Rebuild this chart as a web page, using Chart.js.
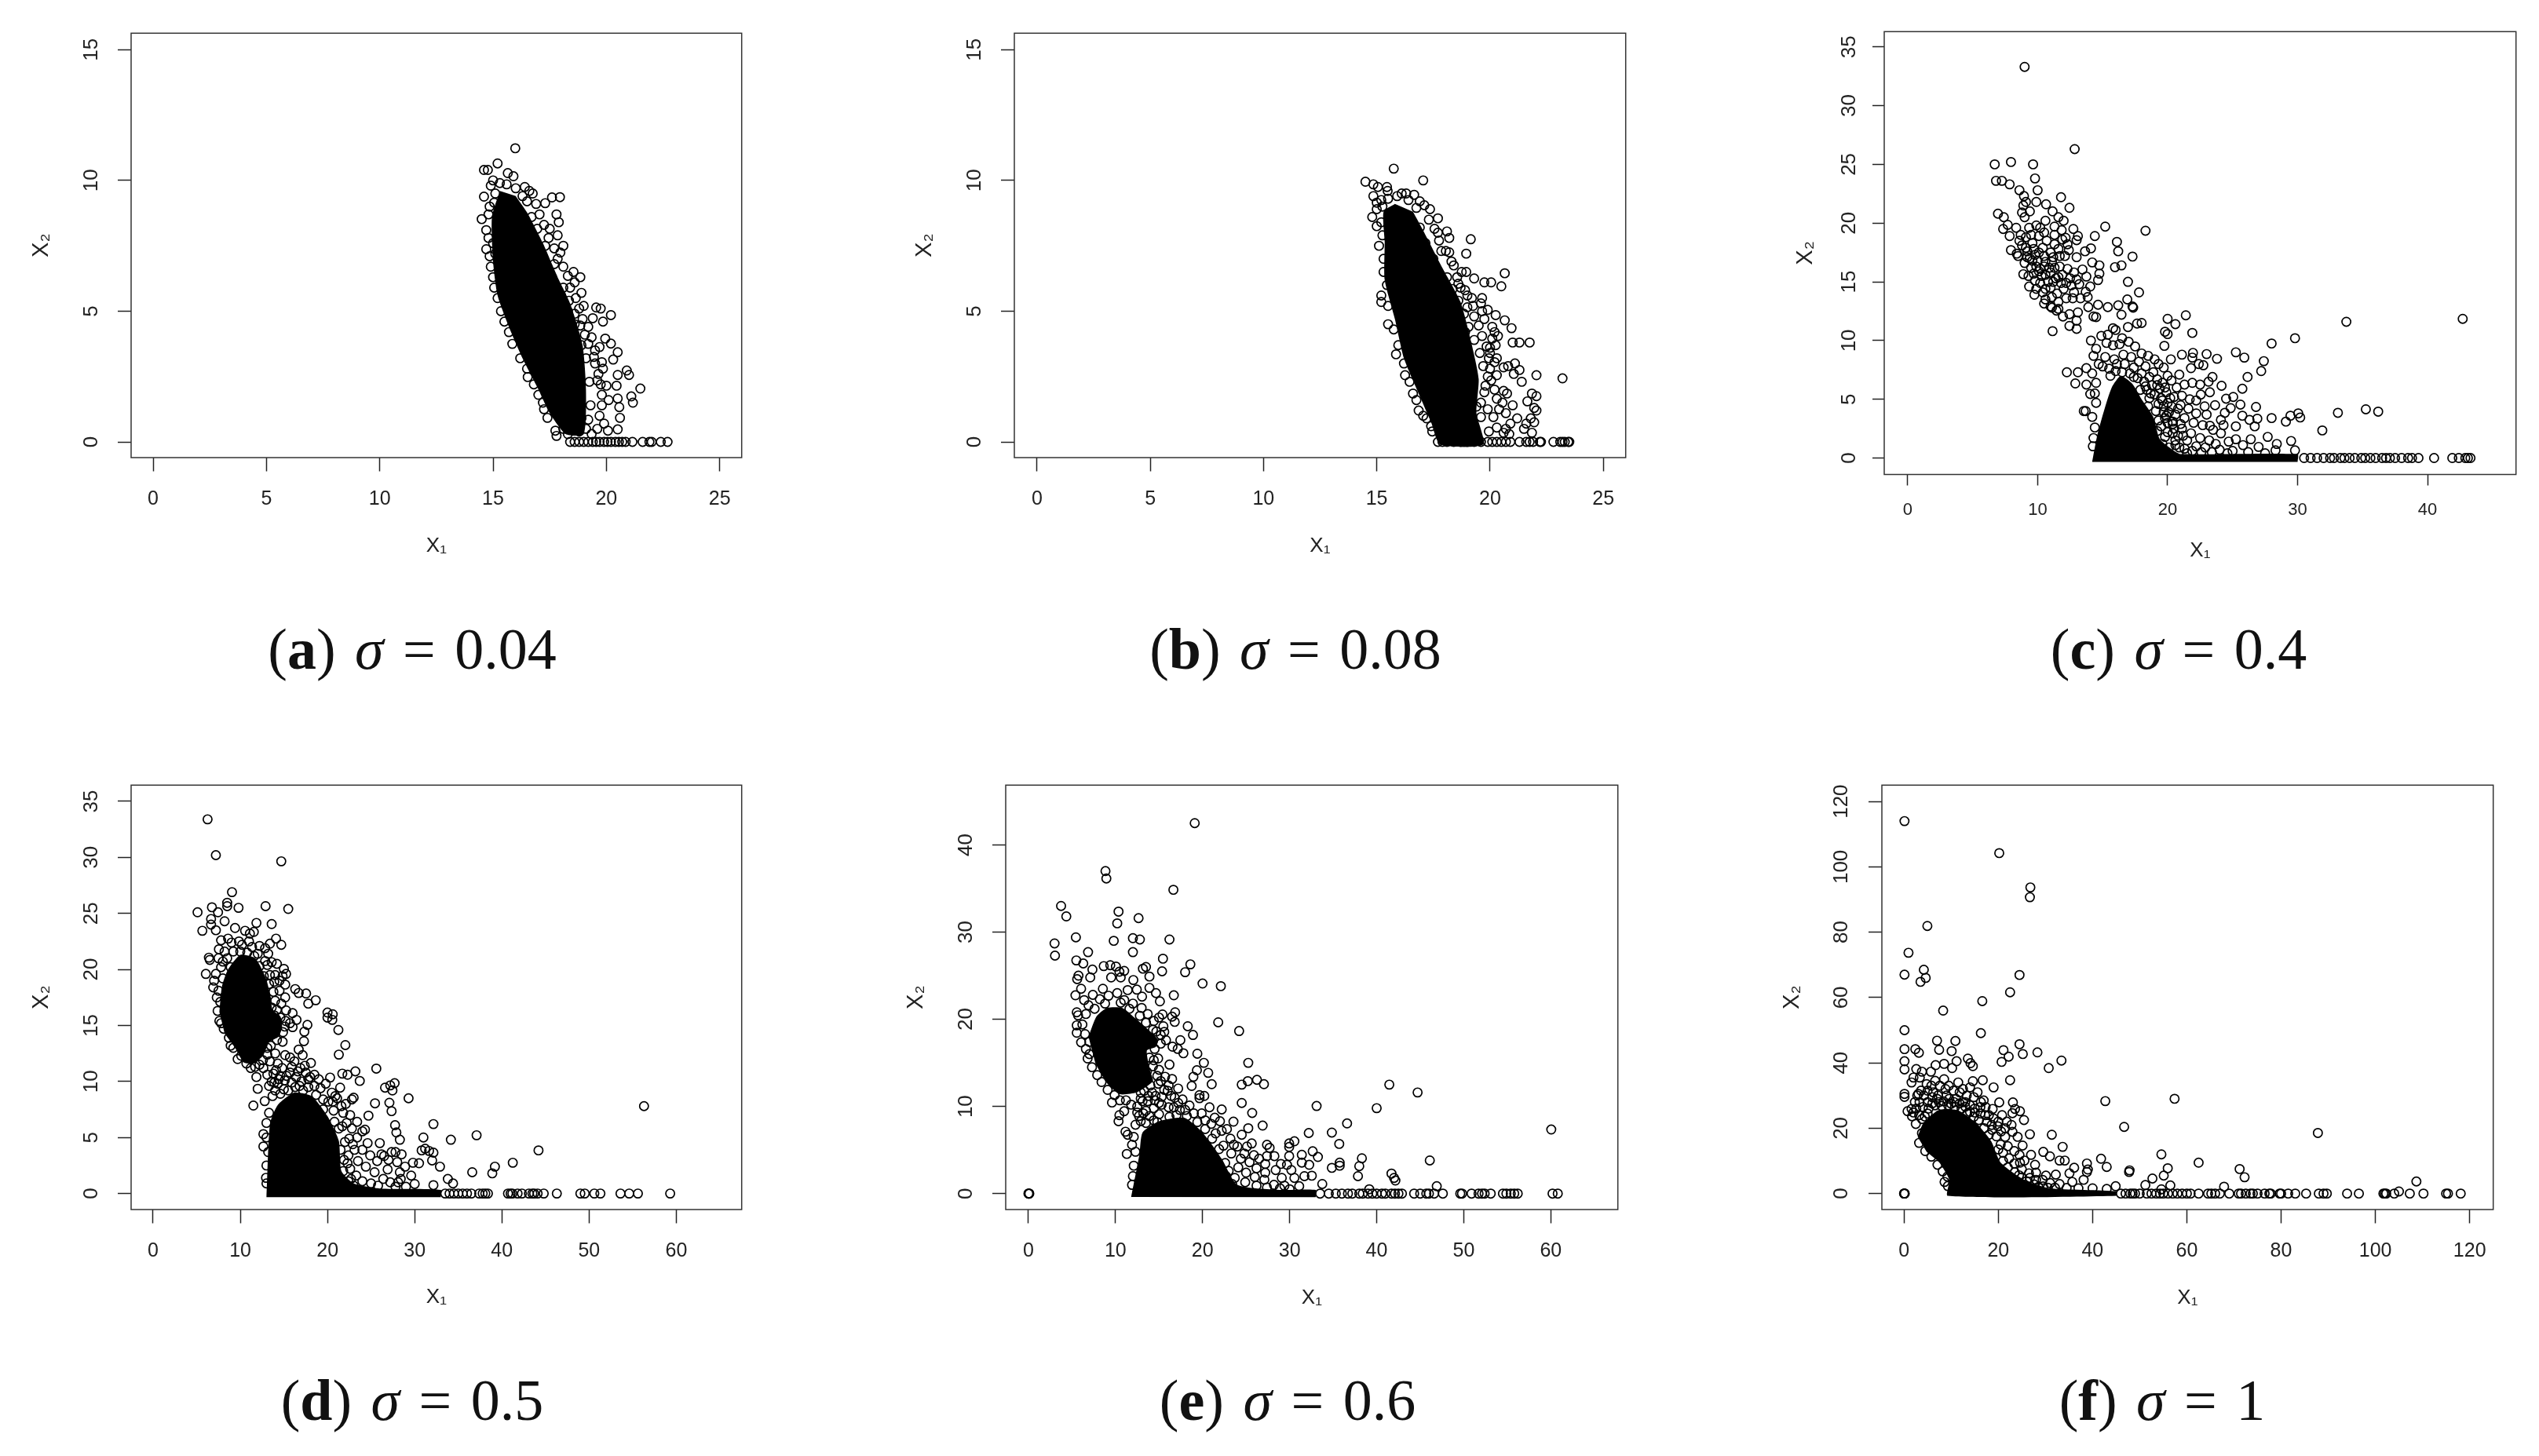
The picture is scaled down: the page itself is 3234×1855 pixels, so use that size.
<!DOCTYPE html>
<html>
<head>
<meta charset="utf-8">
<title>X1 / X2 scatter by sigma</title>
<script src="https://cdn.jsdelivr.net/npm/chart.js@4"></script>
<style>
  html, body { margin: 0; background: #fff; }
  #page { position: relative; width: 3234px; height: 1855px; overflow: hidden; }
  #page canvas { position: absolute; }
  .caption { position: absolute; transform: translate(-50%, -50%); font: 74px "Liberation Serif", serif; word-spacing: 6px; color: #111; white-space: nowrap; }
  .caption i { font-style: italic; }
</style>
</head>
<body>
<div id="page"></div>
<script>
// tick labels
const ticksX25 = [0, 5, 10, 15, 20, 25];
const ticksY15 = [0, 5, 10, 15];
const ticksX40 = [0, 10, 20, 30, 40];
const ticksY35 = [0, 5, 10, 15, 20, 25, 30, 35];
const ticksX60 = [0, 10, 20, 30, 40, 50, 60];
const ticksY40 = [0, 10, 20, 30, 40];
const ticksX120 = [0, 20, 40, 60, 80, 100, 120];
const ticksY120 = [0, 20, 40, 60, 80, 100, 120];

// captions
const letters = ['a', 'b', 'c', 'd', 'e', 'f'];
const sigmas = ['0.04', '0.08', '0.4', '0.5', '0.6', '1'];

// (a) sigma = 0.04: open points, [x1, x2]
const aPoints = [[15.98,11.23],[15.2,10.65],[14.6,10.4],[14.77,10.4],[15.65,10.28],[15.9,10.16],[15,10],[16.4,9.75],[16.6,9.6],[16.75,9.5],[17.3,9.13],[17.6,9.35],[17.95,9.36],[17.8,8.7],[17.9,8.4],[14.6,9.38],[14.5,8.52],[14.7,7.37],[17.5,8.15],[17.85,7.9],[18.1,7.5],[17.97,7.24],[18.55,6.5],[18.85,6.3],[18.6,6.1],[18.9,5.7],[19.55,5.14],[19.75,5.1],[20.2,4.85],[19.85,4.6],[19.4,4.73],[19,5.2],[19.95,3.95],[20.2,3.76],[19.7,3.63],[20.5,3.43],[20.3,3.15],[19.8,3.05],[20.9,2.73],[21,2.56],[20.5,2.56],[21.5,2.04],[20.45,2.15],[20,2.15],[21.1,1.74],[21.17,1.5],[20.5,1.66],[20.1,1.6],[20.57,1.33],[20.6,.92],[20.5,.48],[20.07,.43],[16.53,2.48],[17.2,1.5],[17.4,.92],[17.75,.43],[17.8,.23],
[14.9,9.8],[15.1,9.5],[14.85,9],[14.8,8.7],[14.7,8.1],[14.8,7.8],[14.85,7.1],[14.9,6.7],[15,6.3],[15.05,5.9],[15.2,5.5],[15.35,5],[15.5,4.6],[15.7,4.2],[15.85,3.75],[16.2,3.2],[16.5,2.8],[16.8,2.2],[17,1.8],[17.25,1.25],[16.3,9.4],[16.9,9.1],[17.05,8.7],[17.25,8.3],[17.45,7.8],[17.7,7.4],[17.85,7],[18.1,6.7],[18.3,6.35],[18.4,5.9],[18.65,5.5],[18.8,5.1],[18.95,4.7],[19.2,4.4],[19.35,4],[19.5,3.5],[19.5,3],[19.65,2.6],[19.75,2.2],[19.8,1.8],[19.8,1.4],[19.7,1],[19.9,.7],[19.6,.5],[19.35,.3],[18.3,.3],[18.1,.5],[18.4,.8],[19.6,2.35],[19.85,2.8],[19.45,3.25],[19.2,3.75],[19.05,4.1],[18.85,4.45],[18.6,4.9],[18.35,5.4],[18.1,5.9],[17.7,6.8],[17.3,7.5],[16.95,8.15],[16.7,8.6],
[15.3,9.9],[15.6,9.85],[16,9.7],[15.05,9.15],[16.5,9.2],[19.25,2.3],[19.3,1.4],[19.2,.85],[19.1,.5],[18.8,.4],[18.6,2.4],[19.1,3.2],[18.9,3.7],[18.6,4.5],[18.3,5],[18,5.6],[17.6,6.3],[17.2,7],[16.8,7.8],[18.75,1.2],[18.9,.9],[15.1,7.2],[15,7.6]];
const aZeros = [18.4,18.6,18.8,19,19.2,19.4,19.55,19.7,19.9,20.05,20.2,20.4,20.55,20.7,20.85,21.15,21.6,21.9,22,22.4,22.7];
// outline of the part that overplots to solid black
const aDense = [[15.3,9.6],[14.95,8.6],[15,6.9],[15.2,5.6],[15.7,4.4],[16.3,3.2],[16.95,2.1],[17.5,1.1],[18.2,.3],[19,.3],[19.1,2],[18.95,3.7],[18.4,5.3],[17.85,6.3],[17.2,7.6],[16.55,8.7],[16,9.4]];

// (b) sigma = 0.08
const bPoints = [[15.75,10.45],[17.05,10],[14.5,9.95],[14.85,9.85],[15.05,9.75],[15.45,9.75],[15.48,9.6],[16.1,9.5],[16.3,9.5],[16.65,9.45],[14.85,9.4],[15,9.15],[15.2,9.25],[16.9,9.2],[17.1,9.05],[17.35,8.9],[17.7,8.55],[14.8,8.6],[15,8.9],[15,8.25],[17.7,8],[18.1,8.05],[18.2,7.8],[19.15,7.75],[15.1,7.5],[18.2,7.25],[18.95,7.2],[17.85,7.3],[18.3,6.9],[20.65,6.45],[18.75,6.5],[18.95,6.5],[19.3,6.25],[19.75,6.1],[20.05,6.1],[20.5,5.95],[18.6,6.05],[18.9,5.8],[19.65,5.5],[19.6,5.3],[19.2,5.5],[19,5.15],[19.65,5],[19.9,5.05],[20.25,4.85],[20.65,4.65],[20.95,4.35],[19.75,4.7],[20.2,4.2],[20.35,4.05],[21,3.8],[21.3,3.8],[21.75,3.8],[20.1,3.95],[20,3.6],[20.3,3.2],[20.6,2.85],[20.8,2.9],[21.1,3],[21.3,2.75],[21.05,2.6],[21.4,2.3],[22.05,2.55],[23.2,2.43],[20.3,2.55],[20.6,1.95],[20.75,1.85],[21.85,1.85],[22.05,1.75],[21.65,1.55],[21,1.4],[21.95,1.3],[22.05,1.2],[21.8,.9],[21.95,.75],[21.6,.7],[21.2,.9],[21.5,.5],[20.9,.7],[20.7,1.1],[21.85,.35],[16.25,2.55],[16.6,1.85],[16.85,1.2],[15.2,5.35],[15.2,5.6],[15.3,6.5],[15.5,4.5],[15.85,3.35],[17.2,.9],[17.45,.4],
[15.2,8.4],[15.25,7.9],[15.3,7],[15.45,6],[15.5,5.2],[15.75,4.3],[15.95,3.7],[16.2,3],[16.45,2.3],[16.75,1.6],[17.05,1],[17.4,.6],[17.3,8.5],[17.55,8.15],[17.75,7.7],[18.05,7.3],[18.4,6.75],[18.55,6.3],[18.7,5.9],[19,5.6],[19.25,5.2],[19.3,4.8],[19.5,4.45],[19.65,4.05],[19.85,3.65],[19.95,3.2],[20,2.8],[20.05,2.35],[20.2,2],[20.3,1.65],[20.4,1.25],[20.15,.95],[20.3,.55],[20.6,.35],[19.95,.4],[19.6,1.5],[19.8,2.15],[19.7,2.9],[19.55,3.4],[19.3,3.9],[19.05,4.4],[18.85,4.9],[18.6,5.4],[18.35,5.85],[18.1,6.3],[20,3.4],[20.25,3.7],[20.1,4.4],[19.9,1.25],[20.55,1.5],
[15.5,9.3],[15.9,9.4],[16.4,9.25],[16.75,8.95],[15.25,9],[20.2,3.05],[19.9,2.5],[19.75,1.9],[19.6,.95],[19.4,1.35],[19.3,.5],[20.7,.5],[20.85,.3],[18.9,4.2],[18.6,4.7],[18.35,5.2],[18.1,5.7],[17.8,6.4],[17.5,7],[17.15,7.6],[16.9,8.2]];
const bZeros = [17.7,17.9,18.1,18.4,18.7,19,19.3,19.6,19.9,20.1,20.3,20.5,20.7,20.9,21.3,21.6,21.75,21.9,22.2,22.25,22.8,23.1,23.2,23.3,23.45,23.5];
const bDense = [[15.8,9.1],[15.3,8.8],[15.35,7.65],[15.35,6.2],[15.8,4.7],[16.2,3.2],[16.9,1.75],[17.4,.75],[17.8,-.1],[19.7,-.1],[19.4,1.1],[19.5,2.4],[19.2,3.7],[18.7,5.35],[17.9,6.65],[17.1,8],[16.6,8.8]];

// (c) sigma = 0.4
const cPoints = [[9,33.3],[12.85,26.3],[6.7,25],[7.95,25.2],[9.65,25],[6.8,23.6],[7.25,23.6],[7.85,23.3],[9.8,23.8],[10,22.8],[8.6,22.8],[8.95,22.3],[11.8,22.2],[9.1,21.8],[9.9,21.8],[8.9,21.5],[10.65,21.6],[12.45,21.3],[9.4,21],[11.15,21],[6.95,20.8],[7.4,20.5],[8.8,20.9],[11.6,20.5],[12,20.2],[10.6,20.2],[9,20.5],[15.2,19.7],[18.3,19.35],[12.75,19.5],[7.35,19.5],[7.7,19.85],[8.35,19.6],[11.3,19.7],[9.9,19.8],[11.85,19.4],[9.35,19.6],[11.3,19],[8.7,19],[7.85,18.9],[13.1,18.9],[14.4,18.9],[12.15,18.75],[13,18.55],[16.1,18.4],[11.3,18.2],[8.8,18.1],[7.95,17.7],[8.4,17.4],[12.4,17.7],[13.65,17.6],[14.1,17.85],[16.2,17.6],[17.3,17.15],[13,17.1],[16.45,16.4],[15.95,16.25],[14.2,16.65],[14.75,16.4],[13.45,16.05],[14.75,15.7],[13.75,15.45],[14.65,15.15],[16.95,15],[8.9,15.65],[9.35,14.6],[9.75,13.9],[13,15.2],[13.2,14.8],[14.05,14.6],[13.7,14.15],[13.85,13.7],[12.7,13.6],[13.3,13.6],[17.8,14.1],[16.9,13.5],[10.5,13.15],[13.9,12.85],[14.65,13.05],[15.4,12.85],[16.2,13],[17.3,12.9],[17.35,12.8],[11.1,12.8],[11.45,12.55],[11.95,12.05],[13.1,12.4],[12.45,12.25],[13,11.7],[12.45,11.25],[13,11],[11.15,10.8],[14.3,12.05],[14.5,12],[16.45,12.2],[21.4,12.15],[20,11.85],[20.6,11.4],[18,11.5],[17.65,11.45],[16.95,11.15],[21.9,10.65],[19.8,10.75],[20,10.55],[15.8,11.05],[33.75,11.6],[42.7,11.85],[29.8,10.2],[28,9.75],[19.75,9.55],[25.25,9],[25.9,8.55],[21.1,8.8],[23,8.85],[23.8,8.45],[27.4,8.25],[27.2,7.4],[26.15,6.9],[21.95,8.95],[20.25,8.4],[21.9,8.55],[22.4,8],[22.75,7.9],[21.8,7.65],[20.9,7.1],[23.45,6.9],[24.15,6.15],[23.15,6.5],[22.5,6.25],[21.9,6.4],[21.3,6.25],[12.25,7.3],[13.1,7.3],[13.75,7.65],[12.9,6.35],[13.75,6.25],[13.7,4],[13.55,4],[14.05,5.45],[25.75,5.9],[23.25,5.6],[22.55,5.4],[25.05,5.2],[24.5,5.05],[25.6,4.55],[23.65,4.5],[22.85,4.4],[26.8,4.35],[24.85,4.25],[24.4,3.85],[25.75,3.6],[33.1,3.85],[35.25,4.15],[36.2,3.95],[30.05,3.8],[29.45,3.6],[30.2,3.45],[29.1,3.1],[28,3.4],[26.3,3.25],[26.9,3.35],[24.1,3.25],[23.25,2.75],[26.7,2.7],[25.25,2.7],[24.1,2.1],[31.9,2.35],[27.7,1.8],[29.5,1.45],[26.4,1.6],[25.25,1.6],[28.4,1.2],[27,.95],[29.8,.65],[28.3,.65],[25.8,1.1],[23.7,1.2],
// upper cluster
[8.6,18.5],[9.1,18.8],[9.6,18.3],[10.1,18.9],[10.5,19.2],[8.5,17.2],[9.2,17.6],[9.8,17.3],[10.4,17.9],[11,17.5],[11.6,17.8],[12.1,17.2],[9,16.6],[9.5,16.2],[10,16.8],[10.5,16.3],[11.1,16.7],[11.7,16.3],[12.3,16.1],[12.8,15.8],[9.3,15.5],[9.8,15.1],[10.3,15.5],[10.8,15],[11.4,15.3],[11.9,15.6],[12.5,15.3],[9.9,14.4],[10.4,14.1],[11,14.5],[11.5,14],[12,14.4],[12.6,14.7],[10.6,13.5],[11.1,13.7],[11.6,13.3],[12.2,13.6],[12.8,14.1],[11,12.9],[11.6,12.7],[9.4,17],[10.7,18.5],[11.9,18.6],[12.3,18.2],[9.5,19],[10.2,19.6],
[9.2,17.1],[9.6,16.8],[9.9,16.3],[10.2,16.1],[10.6,16.7],[10.9,16.2],[9.7,15.7],[10.1,15.9],[10.6,15.6],[11,15.8],[11.3,16.2],[11.6,15.4],[10.2,14.9],[10.6,14.4],[11.2,15],[11.8,14.9],[12.2,14.9],[9.1,17.9],[9.7,17.8],[10.1,17.5],[10.5,17.2],[11.2,17.1],[11.7,17.2],
// lower cluster, upper and right side
[14.9,10.4],[15.4,10.5],[16,10.9],[16.5,10.2],[14.1,10],[14.5,9.3],[15.3,9.8],[15.8,9.6],[16.3,9.7],[17,9.9],[17.5,9.5],[18,8.9],[18.5,8.7],[19,8.4],[19.3,8],[14.3,8.7],[14.7,8],[14.2,7.2],[14.5,6.4],[14.4,5.5],[14.5,4.7],[14.2,3.5],[14.4,2.6],[14.3,1.7],[14.25,1],[19.7,7.7],[20,7],[19.6,6.4],[20.3,6.6],[20.7,6],[19.9,5.6],[20.5,5.2],[21.1,5.3],[21.7,5],[20.3,4.4],[21,4.5],[21.6,4.2],[22.2,3.8],[19.9,3.6],[20.6,3.7],[21.3,3.4],[22,3],[22.7,2.8],[23.5,2.4],[20.4,2.9],[21.1,2.5],[21.8,2.1],[22.5,1.7],[23.2,1.5],[24.7,1.4],[20.8,1.9],[21.5,1.5],[22.2,1],[22.9,.9],[24,.7],[25,.6],[26.2,.5],[27.5,.4],[20.6,1.1],[21.3,.8],[21.9,.6],[23.4,.5],[22.2,4.9],[23,3.7],[24.3,2.8],[19.5,5.1],[19.2,6.2],[18.9,7.3],[18.3,7.8],[17.8,8.2],[17.2,8.6],[16.6,8.8],[15.9,8.4],[15.2,8.6],
[15,7.8],[15.5,7.6],[16.1,8],[16.7,8],[17.4,7.7],[18,7.2],[18.6,6.9],[19.2,6.7],[19.8,6],[18.4,5.8],[19,5.4],[19.6,4.9],[20.2,5.1],[20.8,4.2],[18.5,4.4],[19.1,4],[19.8,3.4],[20.4,3.1],[21,2.9],[19.5,2.7],[20,2.2],[20.6,1.5],[21.2,1.9],[19.6,1.2],[20.1,.9],[21.5,.4],[19.7,4.4],[20.1,3.9],[18.2,6.5],[17.4,6.9],[18.8,6.2],[19.4,5.9],[20,4.7],[20.4,2.1],[19.3,3.2],[18.6,5.1],[17.9,5.8],
[15.6,7],[16,7.4],[16.5,7.3],[17.1,7.2],[17.7,6.8],[18.3,6.1],[18.7,5.5],[19.3,4.6],[19.7,3.9],[20,3],[20.5,2.5],[19.2,2.3],[19.8,1.8],[20.9,.9],[22.6,.5],[24.6,.4]];
const cZeros = [30.5,31,31.5,32,32.5,32.8,33.3,33.6,34,34.4,34.9,35.2,35.6,36,36.5,36.8,37.1,37.5,38,38.5,38.8,39.3,40.5,41.9,42.4,42.9,43.1,43.3];
const cDense = [[14.2,-.33],[14.6,2],[15.1,4],[15.7,6],[16.4,7],[17.3,6.3],[18,5],[18.9,3.5],[19.4,1.6],[20.5,.6],[21,.33],[30,.33],[30,-.33]];

// (d) sigma = 0.5
const dPoints = [[6.25,33.4],[7.2,30.2],[14.7,29.65],[9.05,26.9],[5.1,25.1],[6.75,25.55],[8.5,25.95],[8.5,25.65],[9.8,25.5],[12.9,25.65],[15.5,25.4],[7.45,25.1],[6.65,24.5],[6.65,24],[8.2,24.3],[5.65,23.45],[7.2,23.5],[11.85,24.15],[13.6,24.05],[9.4,23.7],[10.55,23.45],[11.1,23.2],[11.55,23.35],[14.1,22.75],[7.8,22.6],[8.6,22.75],[9.85,22.5],[14.7,22.2],[13.4,22.3],[12.85,21.9],[11.35,22],[7.55,21.8],[6.4,21.05],[7.5,21],[6.5,20.85],[6.05,19.6],[12.85,20.75],[13.6,20.65],[13.1,20.4],[15,20.05],[15.25,19.6],[14,19.5],[14.85,19.4],[15.15,18.65],[16.3,18.25],[16.7,17.9],[17.55,17.85],[18.65,17.25],[17.8,16.95],[15.15,17.5],[14.7,16.95],[15.25,16.35],[16,16.1],[20,16.15],[20.6,16],[20,15.7],[20.55,15.5],[16.45,15.5],[15.7,15.2],[17.7,15.05],[16,14.85],[21.25,14.6],[17.35,14.45],[17.3,13.6],[14.85,13.55],[22.05,13.25],[21.3,12.4],[16.7,12.85],[15.15,12.35],[17.15,12.35],[15.7,12.15],[25.6,11.15],[18.1,11.65],[21.7,10.7],[23.2,10.9],[22.3,10.6],[12.65,11.2],[20.3,10.35],[23.7,10.05],[27.7,9.85],[26.6,9.45],[27.2,9.65],[27.45,9.2],[21.45,9.45],[11.85,10.4],[12,9.35],[13.3,9.6],[11.5,7.85],[12.8,8.25],[29.3,8.5],[25.45,8.05],[27.1,8.1],[27.35,7.35],[23,8.55],[24.7,6.95],[27.75,6.1],[32.15,6.2],[27.9,5.45],[24,5.55],[24.3,5.7],[56.3,7.8],[37.1,5.2],[34.15,4.8],[31,5],[28.3,4.8],[24.6,4.5],[26,4.5],[44.2,3.85],[31.2,4],[30.8,3.85],[31.65,3.8],[32.15,3.65],[28.5,3.5],[27.35,3.7],[26.5,3.35],[12.65,5.3],[12.65,4.2],[41.25,2.75],[39.2,2.4],[38.9,1.8],[36.6,1.9],[32.9,2.4],[32,2.95],[29.8,2.75],[30.5,2.7],[29.6,1.6],[28.1,1],[33.8,1.3],[34.4,.9],[32.15,.75],[30,.85],[28.3,1.9],[26.9,2.15],[12.95,1.4],
// upper blob rim
[7.8,20.2],[8.5,21],[9.2,21.6],[10.2,22.2],[10.8,21.5],[11.6,21.2],[12.2,20.3],[12.7,19.4],[13.3,18.7],[13.8,18],[14,17.2],[13.6,16.6],[14.6,15.7],[15.1,14.9],[14.9,14.4],[14.2,13.7],[13.5,13.2],[13.1,12.4],[12.6,11.9],[11.7,11.3],[10.7,11.6],[10.1,12.3],[9.2,13],[8.7,13.9],[8.1,14.7],[7.6,15.4],[7.4,16.3],[7.7,17.1],[7.5,18.1],[7,19],[8,19.2],[8.9,20.2],[12.2,22.1],[13.2,21.4],[14.2,20.5],[14.5,19],[14.5,18.1],[13.4,11.8],[14,12.5],[13.1,10.6],[13.8,10.7],[14.3,11.6],
[8.2,21.6],[9,22.4],[10,21.6],[11,22.5],[12,21.4],[13.4,19.5],[13.9,18.9],[14.2,16.4],[13.9,15.9],[15.2,15.4],[13.7,14.5],[13.1,13],[12.2,11.5],[11.2,11.2],[9.7,12],[8.9,13.2],[7.8,15.2],[7.3,17.5],[6.9,18.4],[7.2,19.6],[8,20.7],
// between blobs and right of lower blob
[14.8,11.2],[15.3,10.5],[16.2,11.8],[16.9,11.2],[17.5,10.8],[18.5,10.6],[19,10.2],[19.8,9.8],[15,9.3],[14.3,9.8],[13.7,8.7],[13.3,7.2],[13,6.3],[13,5],[13.2,3.7],[13,2.5],[13,.9],[20.5,9],[21.1,8.5],[22.1,8],[22.8,8.4],[21.8,7.2],[22.6,7],[23.4,6.4],[20.7,7.4],[21.7,6],[22.8,5.8],[23.4,5],[22.5,4.9],[23.1,3.9],[24,3.9],[24.9,3.4],[25.7,2.9],[23.5,2.9],[24.4,2.4],[25.4,1.9],[26.4,1.3],[27.2,1],[22.6,2.2],[23.3,1.6],[24,1.1],[25,.9],[25.8,.7],[22.4,1.1],[23,.7],[27.8,.6],[29,.6],[26.2,3.5],[27,3],[28,2.8],[28.9,2.4],[27.8,3.7],[28.4,1.3],
[14.1,11],[14.6,10.5],[15.7,10.8],[16.4,10.4],[17,10],[17.8,10.2],[18.5,9.6],[19.2,9.4],[13.9,9.9],[14.6,8.9],[15.5,9.2],[16.3,9.5],[17.2,9.2],[18.7,8.8],[19.5,8.4],[20.1,8.2],[20.6,8.2],[19.5,7.5],[20.8,6.4],[21.3,5.8],[22,4.6],[22.4,3.4],[21.9,3],[22.3,2.7],[21.8,2],
[15.9,11.3],[16.6,10.9],[17.4,11.4],[18,10.4],[15.1,10.1],[15.9,9.9],[16.8,9.6],[17.8,9.5],[14.4,10.2],[13.6,10],[14,9.2],[20.9,8.7],[21.6,7.8],[22.2,6.3],[22.9,4.4],[21.5,3.9],[22.7,1.3]];
const dZeros = [33.5,34,34.5,35,35.5,36,36.5,37.4,37.8,38.1,38.4,40.7,41,41.2,41.8,42.3,43.1,43.5,43.7,44.1,44.8,46.3,49,49.5,50.6,51.3,53.6,54.6,55.6,59.3];
const dDenseUpper = [[7.6,16.2],[7.9,18.5],[8.6,20],[10,21.3],[11.7,21],[12.9,19.3],[13.5,17.5],[13.7,16.4],[14.6,15.8],[14.8,14.9],[14.4,14],[13.3,13.5],[12.6,12.3],[11.5,11.6],[10.4,11.7],[9.4,13],[8.2,14.3]];
const dDenseLower = [[13,-.33],[13.4,6.2],[14.3,7.9],[16.2,9],[18.2,8.7],[20,6.9],[21.3,4.7],[21.6,2],[23,.9],[26,.45],[33,.33],[33,-.33]];

// (e) sigma = 0.6
const ePoints = [[19.1,42.5],[8.85,37],[8.95,36.15],[16.65,34.85],[3.75,33],[4.35,31.8],[10.35,32.35],[10.2,31],[12.65,31.6],[5.45,29.4],[12,29.3],[12.8,29.15],[16.2,29.15],[9.8,29],[3,28.7],[3.05,27.3],[12,27.7],[6.85,27.7],[15.45,26.95],[5.5,26.75],[6.3,26.4],[18.6,26.3],[8.65,26.1],[9.4,26.2],[10.05,26.05],[7.35,25.7],[13.5,26],[13.15,25.8],[15.35,25.5],[18,25.4],[11,25.55],[10.45,25.45],[20,24.1],[22.1,23.8],[13.9,24.9],[5.75,25],[5.6,24.6],[7.1,24.8],[9.5,24.8],[10.6,24.8],[12.05,24.5],[13.9,23.6],[5.4,22.75],[6.05,23.5],[8.55,23.5],[11.4,23.35],[12.45,23.4],[14.65,23],[16.7,22.75],[13.05,22.6],[15.1,22.05],[5.55,20.8],[5.7,20.45],[5.55,19.3],[5.55,18.45],[6.05,17.35],[16.85,20.8],[15.4,20.55],[16.5,20.3],[16.8,19.7],[21.8,19.65],[24.2,18.65],[18.3,19.2],[18.9,18.2],[15.6,18.55],[17.45,17.6],[16.55,16.85],[17.15,16.6],[17.8,16.1],[19.4,16.05],[14.9,15.5],[25.25,15],[20.15,15],[16.2,14.8],[19.35,14.15],[20.65,13.85],[18.95,13.4],[26.25,13.05],[25.2,12.9],[27.05,12.55],[24.5,12.5],[21.05,12.55],[18.75,12.35],[16.5,13.15],[17.2,12.05],[41.45,12.5],[44.7,11.6],[24.5,10.4],[19.65,11.3],[20.2,11.2],[19.65,10.95],[33.1,10.05],[40,9.8],[20.8,9.9],[22.2,9.65],[25.7,9.25],[36.6,8.05],[26.9,7.8],[23.55,8.25],[25.25,7.5],[60.05,7.35],[32.2,6.95],[34.85,7],[24.5,6.75],[27.4,5.6],[27.7,5.25],[30.55,6],[29.95,5.75],[29.95,5.35],[35.7,5.7],[25.1,5.4],[25.65,5.75],[32.65,4.85],[31.4,4.45],[33.25,4.2],[38.3,4.05],[46.1,3.8],[29.95,4.3],[28.25,4.3],[27.4,4.3],[11.3,4.55],[31.4,3.55],[35.75,3.55],[35.75,3.2],[34.85,2.95],[38,3.15],[32.25,3.3],[29.7,3.3],[41.7,2.3],[42,1.8],[42.15,1.5],[37.85,2],[32.55,2.05],[31.7,2],[30.55,1.8],[29.1,1.8],[33.75,1.1],[46.9,.85],[39.15,.5],[31.1,.85],[11.15,7.1],[11.4,6.75],[11.9,5.6],[10.35,8.3],[9.6,10.45],[10.45,9],[11,9.45],
// upper blob rim
[6.4,22.2],[6.9,21.6],[7.4,22.8],[8.2,22.3],[9.2,22.7],[10.2,23],[11,22.2],[12,21.8],[13,21.3],[13.7,20.6],[14.4,19.8],[15,20.2],[15.5,19.2],[14.7,18.6],[15.8,17.6],[15.2,17.2],[14.5,16.6],[13.9,15.6],[15,14.2],[15.7,13.4],[14.9,12.6],[15.6,11.9],[16.4,11.2],[14.6,11.2],[13.8,11.2],[13.1,10.6],[12.5,10],[11.8,10.2],[11.2,10.7],[10.5,10.7],[9.9,11.3],[9.1,11.9],[8.4,12.8],[7.9,13.6],[7.3,14.5],[6.8,15.5],[6.6,16.6],[6.5,18.3],[6.2,19.4],[6.6,20.6],
[7.6,21.2],[8.8,21.8],[10.6,21.9],[11.6,21.2],[12.8,20.4],[13.5,19.6],[14.3,18.8],[15.2,18.2],[14.4,15.3],[14.8,13.5],[14.3,14.6],[13.6,14],[13.2,13],[12.9,11.6],[7,16],[7,17.4],
// between blobs and right of lower blob
[13.5,9.5],[14.4,9.8],[15.3,10.2],[16.1,9.9],[17.2,10.4],[18,9.6],[19,9.2],[12.7,8.9],[12.3,7.9],[12.1,6.5],[12.3,4.8],[12.1,3.2],[12,2],[11.9,1],[20.3,8.4],[21,8],[22,8.3],[22.8,7.4],[21.5,6.9],[23.2,6.3],[24,5.4],[22.4,5.5],[23.3,4.6],[24.4,4],[25.4,3.6],[26.2,2.9],[27.2,3.4],[24.1,3],[25,2.4],[26,1.9],[27.1,1.6],[28.2,1],[23.7,1.8],[24.9,1.3],[26.2,.9],[27.4,.7],[28.9,.6],[30,.5],[26.5,4],[27.2,2.4],[28.4,2.7],[29,3.4],[30.2,2.7],[29.4,.9],
[12.9,10.9],[13.7,10.6],[14.5,10.7],[13.2,9.2],[13.9,8.9],[15,9.1],[14.2,11.6],[15.3,11.1],[16,11.8],[16.8,11],[17.7,10.8],[18.5,10.1],[12.9,8.3],[13.5,8.1],[14.4,8.4],[16.2,8.8],[17,9],[18.2,8.9],[19.4,8.2],[20.3,7.4],[21.1,6.3],[21.9,5.1],[22.6,3.5],[23,2.6],[22.7,2],[23.4,1.1],
[14,12.4],[15.2,12.9],[16.1,12.4],[15,10.4],[13.3,11.8],[16.7,9.9],[17.4,9.6],[12.5,9.3],[14.8,8.2],[19.9,9.2],[21.4,8.7],[22.2,7.2],[23.6,5.6],[24.8,4.6],[25.9,4.4]];
const eZeros = [0,.05,.1,33.5,34.5,35.3,36,36.7,37.2,38,38.4,39,39.5,40,40.6,41,41.7,42.1,42.5,42.9,44.3,45,45.7,46,46.6,47.6,49.6,49.8,50.9,51.7,52.1,52.4,53.1,54.5,54.9,55.4,55.8,56.2,60.2,60.8];
const eDenseUpper = [[6.9,18],[7.8,20.3],[9,21.3],[10.8,21.3],[12.4,20],[14.2,18.4],[14.9,17.6],[14.6,16.8],[13.6,16.4],[14,14],[14.3,12.9],[12.4,11.6],[10.5,11.4],[9,12.7],[7.7,14.9]];
const eDenseLower = [[11.8,-.4],[12.75,4.5],[13.1,7],[15,8.3],[17.9,8.7],[20,7],[22.2,4],[24,1],[28.8,.42],[33,.42],[33,-.42]];

// (f) sigma = 1
const fPoints = [[.1,114],[20.2,104.2],[26.8,93.7],[26.7,90.7],[4.95,81.9],[.95,73.7],[4.2,68.5],[4.6,66],[3.5,64.8],[.1,67],[24.5,66.9],[22.5,61.6],[16.6,58.9],[8.3,56],[.1,50],[16.3,49.1],[7,46.8],[10.9,46.7],[24.5,45.7],[7.45,44],[2.4,44.2],[.1,44.2],[3.15,43.1],[10.1,43.6],[21.1,43.9],[22.2,41.9],[25.2,42.7],[28.3,43.2],[33.4,40.7],[20.7,40.3],[.1,40.5],[11.15,40.5],[13.55,41.3],[14.1,39.9],[14.6,39],[6.7,39.3],[8.5,39.7],[30.7,38.4],[.1,38],[2.6,38.1],[10.2,38.4],[3.8,37.3],[5.7,37.3],[2,35.5],[3.35,35.5],[22.5,34.7],[16.7,34.7],[1.6,34],[19,32.5],[14.6,34.4],[57.4,29],[42.7,28.3],[.1,30.5],[.1,29.6],[3.05,30.5],[16.9,28.5],[20.2,27.9],[23.1,27.9],[.75,25.2],[1.6,25.9],[23.55,25.9],[24.6,25.2],[23,24.6],[18.8,25.9],[1.7,23.65],[25.45,22.5],[2.5,21.3],[46.7,20.4],[87.8,18.55],[26.7,18.15],[31.35,18],[19.9,20.6],[21.45,20],[23,18.9],[24.1,17.35],[21.45,17.35],[25.15,14.7],[33.65,14.3],[54.6,12],[29.55,12.75],[26.95,11.85],[30.95,11.4],[41.8,10.65],[33,10.1],[34.1,10.1],[38.8,9.2],[62.5,9.45],[25.55,10.1],[27.8,8.8],[24.6,9.45],[43,8.15],[36.1,7.9],[55.95,7.75],[71.2,7.5],[47.85,7.1],[47.75,6.6],[38.8,6.6],[39,7.35],[35.1,6.2],[32.2,5.8],[30.1,5.5],[55.1,5.5],[72.25,5],[52.7,4.6],[38.1,4.2],[35.7,3.55],[108.7,3.7],[51.2,2.6],[44.9,2.25],[56.5,2.5],[67.9,2.1],[54.6,1.3],[105,.65],[33,2.9],[28,4.2],[8.6,3.55],
// ring around the blob
[2.6,26],[3.3,28],[4.2,30],[5,31.5],[5.8,33],[6.6,34.5],[7.6,33],[8.5,35],[9.5,33],[10.5,31.5],[11.5,34],[12.5,32],[13.3,30],[14,32.5],[14.8,29.5],[15.6,31],[16.3,28],[17.3,26.5],[18,24],[19,23],[20,22],[20.8,24],[21.8,22],[22.8,21],[17.6,22],[18.7,19.5],[19.6,17.5],[20.5,15],[22,14.5],[23.4,13],[24.5,11.8],[21,12.5],[22.3,10.8],[23.4,9.2],[25,7.4],[26.5,6.2],[28,6.4],[29.4,4.2],[31,3.2],[24.4,5.6],[26,3.8],[27.6,2.8],[29.5,2.2],[32,1.8],[34.5,1.7],[37,1.6],[40,1.6],[43,1.4],[3.2,24],[4,26.5],[5,28],[6,29.5],[7.2,30],[9,30],[11,29],[12.5,28],[14,27],[3.8,18.5],[3.2,15.5],[4.5,13],[5.8,11.3],[7.1,8.8],[8.2,6.8],[9.2,5.2],[9.3,2.3],[19.8,6],[21.5,5],[23,3.5],
[3.6,31.5],[4.8,33.5],[6.2,31],[7.4,28],[8.8,32],[10,27.5],[11.8,31],[13,28],[15,26],[16.2,24.5],[17.2,24],[2.8,30],[2.3,28],[2,24.8],[3.8,22.8],[5.2,26],[6.6,27],[8,26.8],[9.4,27],[10.8,26.5],[12.2,26],[13.4,24.5],[14.8,23.5],[15.9,22.5],[17,20],[18,18],[18.6,21],[20.6,19],[20,13.5],[21,10],[22,8],[23.5,6.5],[25,5],[26.7,4.8],[28.5,2],[30.5,1.8],
[6,27.6],[7,29],[8.4,28.2],[9.6,29],[10.6,28],[11.8,27.6],[13,26.6],[14,25],[15,24.8],[16.2,26.5],[5,24.5],[4.4,23.6]];
const fZeros = [0,.05,.1,.15,46,47,48,48.5,49,50,51.5,52.5,53.5,54.3,55,56,57,58,59,60,60.8,62.5,64.5,65.2,66,67,69,71,71.5,72.5,73.5,74,75,76.5,77.5,77.8,79.7,80,81.5,83,85.3,88,89,89.7,94,96.5,101.7,102,102.3,104,107.3,110.2,115,115.4,118.1];
const fDense = [[2.9,17.35],[4,21.3],[7.25,25.5],[11.45,25.5],[15.5,21.3],[18.5,16],[20.5,9.45],[25.5,4.2],[31,1.6],[45,.7],[45,-.7],[9.3,-.7],[9.6,4.2],[7.5,9.45],[4.8,12.75]];

// where each plot sits on the page and how its axes are dressed
const panels = [
  { points: aPoints, zeros: aZeros, dense: [aDense], xTicks: ticksX25, yTicks: ticksY15,
    box: [167, 41, 946, 583], x: [-0.97, 25.97], y: [-0.6, 15.63], xFont: 25, xTick: 17.5, yTick: 17, xPad: 21, yPad: 19, xTitle: 112, yTitle: 114, cap: [525, 827] },
  { points: bPoints, zeros: bZeros, dense: [bDense], xTicks: ticksX25, yTicks: ticksY15,
    box: [1292, 41, 2072, 583], x: [-1.0, 25.99], y: [-0.6, 15.63], xFont: 25, xTick: 17.5, yTick: 17, xPad: 21, yPad: 19, xTitle: 112, yTitle: 114, cap: [1650, 827] },
  { points: cPoints, zeros: cZeros, dense: [cDense], xTicks: ticksX40, yTicks: ticksY35,
    box: [2400, 39, 3206, 604], x: [-1.8, 46.8], y: [-1.4, 36.3], xFont: 22, xTick: 14, yTick: 15, xPad: 18.5, yPad: 14.6, xTitle: 96.5, yTitle: 100, cap: [2775, 827] },
  { points: dPoints, zeros: dZeros, dense: [dDenseUpper, dDenseLower], xTicks: ticksX60, yTicks: ticksY35,
    box: [167, 999, 946, 1541], x: [-2.52, 67.5], y: [-1.43, 36.45], xFont: 25, xTick: 17.5, yTick: 17, xPad: 20.5, yPad: 19, xTitle: 111, yTitle: 114, cap: [525, 1784] },
  { points: ePoints, zeros: eZeros, dense: [eDenseUpper, eDenseLower], xTicks: ticksX60, yTicks: ticksY40,
    box: [1281, 999, 2062, 1541], x: [-2.61, 67.7], y: [-1.83, 46.86], xFont: 25, xTick: 17.5, yTick: 17, xPad: 20.5, yPad: 19, xTitle: 112, yTitle: 114, cap: [1640, 1784] },
  { points: fPoints, zeros: fZeros, dense: [fDense], xTicks: ticksX120, yTicks: ticksY120,
    box: [2396.6, 999, 3177, 1541], x: [-4.7, 125], y: [-4.89, 125], xFont: 25, xTick: 17.5, yTick: 17, xPad: 20.5, yPad: 12.8, xTitle: 112, yTitle: 114, cap: [2754, 1784] }
];

// R style frame round the plot area
const framePlugin = {
  id: 'frame',
  afterDraw(chart) {
    const { ctx, chartArea: a } = chart;
    ctx.save();
    ctx.strokeStyle = '#333';
    ctx.lineWidth = 1.5;
    ctx.strokeRect(a.left, a.top, a.right - a.left, a.bottom - a.top);
    ctx.restore();
  }
};

const page = document.getElementById('page');

panels.forEach(function (p, i) {
  const [left, top, right, bottom] = p.box;
  const xHeight = p.xTitle + 16;
  const yWidth = p.yTitle + 17;
  const canvas = document.createElement('canvas');
  canvas.width = Math.round(right - left + yWidth + 6);
  canvas.height = Math.round(bottom - top + xHeight + 6);
  canvas.style.left = (left - yWidth) + 'px';
  canvas.style.top = (top - 6) + 'px';
  page.appendChild(canvas);

  const datasets = p.dense.map(outline => ({
    data: outline.map(([x, y]) => ({ x, y })),
    showLine: true,
    fill: 'shape',
    tension: 0.2,
    backgroundColor: '#000',
    borderWidth: 0,
    pointRadius: 0
  }));
  datasets.push({
    data: p.points.map(([x, y]) => ({ x, y })).concat(p.zeros.map(x => ({ x, y: 0 }))),
    pointStyle: 'circle',
    pointRadius: 5.6,
    pointBorderWidth: 1.7,
    pointBorderColor: '#000',
    pointBackgroundColor: 'transparent'
  });

  new Chart(canvas, {
    type: 'scatter',
    data: { datasets },
    plugins: [framePlugin],
    options: {
      responsive: false,
      animation: false,
      layout: { padding: { top: 6, right: 6 } },
      plugins: { legend: { display: false }, tooltip: { enabled: false } },
      scales: {
        x: {
          type: 'linear',
          min: p.x[0],
          max: p.x[1],
          afterBuildTicks: axis => { axis.ticks = p.xTicks.map(value => ({ value })); },
          // fixed box, and no extra room for the end labels
          afterFit: axis => { axis.height = xHeight; axis.paddingLeft = 0; axis.paddingRight = 0; },
          grid: { drawOnChartArea: false, tickLength: p.xTick, tickColor: '#222', tickWidth: 1.5 },
          border: { display: false },
          ticks: {
            autoSkip: false, maxRotation: 0, padding: p.xPad, color: '#222',
            font: { family: '"Liberation Sans"', size: p.xFont },
            callback: v => String(v)
          },
          title: { display: true, text: 'X₁', color: '#222', padding: 0,
            font: { family: '"Liberation Sans"', size: 26 } }
        },
        y: {
          type: 'linear',
          min: p.y[0],
          max: p.y[1],
          afterBuildTicks: axis => { axis.ticks = p.yTicks.map(value => ({ value })); },
          afterFit: axis => { axis.width = yWidth; axis.paddingTop = 0; axis.paddingBottom = 0; },
          grid: { drawOnChartArea: false, tickLength: p.yTick, tickColor: '#222', tickWidth: 1.5 },
          border: { display: false },
          ticks: {
            autoSkip: false, minRotation: 90, maxRotation: 90, crossAlign: 'center', padding: p.yPad, color: '#222',
            font: { family: '"Liberation Sans Narrow", "Liberation Sans"', size: 26 },
            callback: v => String(v)
          },
          title: { display: true, text: 'X₂', color: '#222', padding: 0,
            font: { family: '"Liberation Sans Narrow", "Liberation Sans"', size: 29 } }
        }
      }
    }
  });

  const cap = document.createElement('div');
  cap.className = 'caption';
  cap.style.left = p.cap[0] + 'px';
  cap.style.top = p.cap[1] + 'px';
  cap.innerHTML = '(<b>' + letters[i] + '</b>) <i>σ</i> = ' + sigmas[i];
  page.appendChild(cap);
});
</script>
</body>
</html>
